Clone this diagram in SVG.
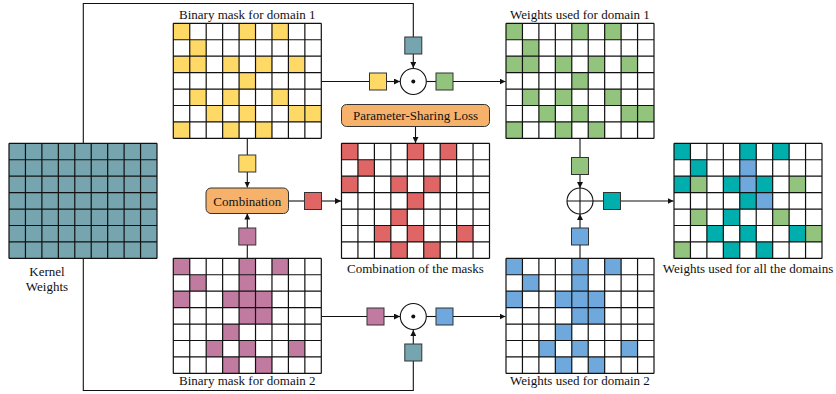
<svg xmlns="http://www.w3.org/2000/svg" xmlns:xlink="http://www.w3.org/1999/xlink" width="836" height="394" viewBox="0 0 836 394">
<style>
text{font-family:"Liberation Serif","DejaVu Serif","Times New Roman",serif;font-size:13px;fill:#111;text-anchor:middle}
.ln{fill:none;stroke:#111;stroke-width:1.1}
.ar{fill:none;stroke:#111;stroke-width:1.1;marker-end:url(#ah)}
.gl{fill:none;stroke:#111;stroke-width:1.2}
.sq{stroke:#333;stroke-width:1}
.box{fill:#f6b26b;stroke:#333;stroke-width:1}
.op{fill:#fff;stroke:#111;stroke-width:1.1}
</style>
<defs>
<marker id="ah" viewBox="0 0 8 8" refX="8" refY="4" markerWidth="6" markerHeight="6" markerUnits="userSpaceOnUse" orient="auto">
<path d="M0 0L8 4L0 8z" fill="#111"/>
</marker>
<path id="grid" d="M0 0V115.11M16.444 0V115.11M32.889 0V115.11M49.333 0V115.11M65.778 0V115.11M82.222 0V115.11M98.667 0V115.11M115.11 0V115.11M131.56 0V115.11M148 0V115.11M0 0H148M0 16.444H148M0 32.889H148M0 49.333H148M0 65.778H148M0 82.222H148M0 98.667H148M0 115.11H148"/>
<g id="patA" transform="scale(16.444)">
<rect x="0" y="0" width="1" height="1"/><rect x="4" y="0" width="1" height="1"/><rect x="6" y="0" width="1" height="1"/>
<rect x="1" y="1" width="1" height="1"/>
<rect x="0" y="2" width="1" height="1"/><rect x="1" y="2" width="1" height="1"/><rect x="3" y="2" width="1" height="1"/><rect x="5" y="2" width="1" height="1"/><rect x="7" y="2" width="1" height="1"/>
<rect x="4" y="3" width="1" height="1"/>
<rect x="1" y="4" width="1" height="1"/><rect x="3" y="4" width="1" height="1"/><rect x="6" y="4" width="1" height="1"/>
<rect x="2" y="5" width="1" height="1"/><rect x="4" y="5" width="1" height="1"/><rect x="7" y="5" width="1" height="1"/><rect x="8" y="5" width="1" height="1"/>
<rect x="0" y="6" width="1" height="1"/><rect x="3" y="6" width="1" height="1"/><rect x="5" y="6" width="1" height="1"/>
</g>
<g id="patB" transform="scale(16.444)">
<rect x="0" y="0" width="1" height="1"/><rect x="4" y="0" width="1" height="1"/><rect x="6" y="0" width="1" height="1"/>
<rect x="1" y="1" width="1" height="1"/><rect x="4" y="1" width="1" height="1"/>
<rect x="0" y="2" width="1" height="1"/><rect x="3" y="2" width="1" height="1"/><rect x="4" y="2" width="1" height="1"/><rect x="5" y="2" width="1" height="1"/>
<rect x="4" y="3" width="1" height="1"/><rect x="5" y="3" width="1" height="1"/>
<rect x="3" y="4" width="1" height="1"/>
<rect x="2" y="5" width="1" height="1"/><rect x="4" y="5" width="1" height="1"/><rect x="7" y="5" width="1" height="1"/>
<rect x="3" y="6" width="1" height="1"/><rect x="5" y="6" width="1" height="1"/>
</g>
<g id="patC" transform="scale(16.444)">
<rect x="0" y="0" width="1" height="1"/><rect x="4" y="0" width="1" height="1"/><rect x="6" y="0" width="1" height="1"/>
<rect x="1" y="1" width="1" height="1"/>
<rect x="0" y="2" width="1" height="1"/><rect x="3" y="2" width="1" height="1"/><rect x="5" y="2" width="1" height="1"/>
<rect x="4" y="3" width="1" height="1"/>
<rect x="3" y="4" width="1" height="1"/>
<rect x="2" y="5" width="1" height="1"/><rect x="4" y="5" width="1" height="1"/><rect x="7" y="5" width="1" height="1"/>
<rect x="3" y="6" width="1" height="1"/><rect x="5" y="6" width="1" height="1"/>
</g>
</defs>
<rect width="836" height="394" fill="#fff"/>

<g id="connectors">
<path class="ln" d="M83.3 143.3V3.5H413.3V37"/>
<path class="ln" d="M83.3 258.4V390.5H413.3V361"/>
<path class="ar" d="M413.3 54V68"/>
<path class="ln" d="M321.3 81.5H369.5"/>
<path class="ar" d="M386.5 81.5H400"/>
<path class="ln" d="M426.3 81.5H436"/>
<path class="ar" d="M453 81.5H505.5"/>
<path class="ln" d="M321.3 316.5H367"/>
<path class="ar" d="M384 316.5H400"/>
<path class="ln" d="M426.3 316.5H436"/>
<path class="ar" d="M453 316.5H505.5"/>
<path class="ar" d="M413.3 344V330"/>
<path class="ln" d="M247.3 138.4V155"/>
<path class="ar" d="M247.3 172V187.5"/>
<path class="ln" d="M247.3 258.4V245"/>
<path class="ar" d="M247.3 228V213.5"/>
<path class="ln" d="M288.5 201H304.5"/>
<path class="ar" d="M321.5 201H341"/>
<path class="ar" d="M415.5 126.5V143"/>
<path class="ln" d="M580 138.4V157.5"/>
<path class="ar" d="M580 174.5V188"/>
<path class="ln" d="M580 258.4V245"/>
<path class="ar" d="M580 228V214"/>
<path class="ln" d="M593 201H603.5"/>
<path class="ar" d="M620.5 201H673.5"/>
</g>

<g id="kernel" transform="translate(9,143.3)">
<rect width="148" height="115.11" fill="#76a5af"/>
<use xlink:href="#grid" class="gl"/>
</g>
<g font-family="Liberation Serif, DejaVu Serif, serif">
<text x="47" y="276">Kernel</text>
<text x="47" y="291">Weights</text>
</g>

<g id="mask1" transform="translate(173.3,23.3)">
<rect width="148" height="115.11" fill="#fff"/>
<use xlink:href="#patA" fill="#ffd966"/>
<use xlink:href="#grid" class="gl"/>
</g>
<text x="247.3" y="19">Binary mask for domain 1</text>

<g id="mask2" transform="translate(173.3,258.3)">
<rect width="148" height="115.11" fill="#fff"/>
<use xlink:href="#patB" fill="#c27ba0"/>
<use xlink:href="#grid" class="gl"/>
</g>
<text x="247.3" y="385">Binary mask for domain 2</text>

<g id="combmasks" transform="translate(341.5,143.3)">
<rect width="148" height="115.11" fill="#fff"/>
<use xlink:href="#patC" fill="#e06666"/>
<use xlink:href="#grid" class="gl"/>
</g>
<text x="415.5" y="273">Combination of the masks</text>

<g id="weights1" transform="translate(506,23.3)">
<rect width="148" height="115.11" fill="#fff"/>
<use xlink:href="#patA" fill="#93c47d"/>
<use xlink:href="#grid" class="gl"/>
</g>
<text x="580" y="19">Weights used for domain 1</text>

<g id="weights2" transform="translate(506,258.3)">
<rect width="148" height="115.11" fill="#fff"/>
<use xlink:href="#patB" fill="#6fa8dc"/>
<use xlink:href="#grid" class="gl"/>
</g>
<text x="580" y="385">Weights used for domain 2</text>

<g id="weightsall" transform="translate(674,143.3)">
<rect width="148" height="115.11" fill="#fff"/>
<use xlink:href="#patA" fill="#93c47d"/>
<use xlink:href="#patB" fill="#6fa8dc"/>
<use xlink:href="#patC" fill="#00afad"/>
<use xlink:href="#grid" class="gl"/>
</g>
<text x="748" y="273">Weights used for all the domains</text>

<g id="op-top">
<rect class="sq" x="404.8" y="37" width="17" height="17" fill="#76a5af"/>
<rect class="sq" x="369.5" y="73" width="17" height="17" fill="#ffd966"/>
<circle class="op" cx="413.3" cy="81.5" r="13"/>
<circle cx="413.3" cy="81.5" r="2" fill="#111"/>
<rect class="sq" x="436" y="73" width="17" height="17" fill="#93c47d"/>
</g>

<g id="op-bottom">
<rect class="sq" x="367" y="308" width="17" height="17" fill="#c27ba0"/>
<circle class="op" cx="413.3" cy="316.5" r="13"/>
<circle cx="413.3" cy="316.5" r="2" fill="#111"/>
<rect class="sq" x="436" y="308" width="17" height="17" fill="#6fa8dc"/>
<rect class="sq" x="404.8" y="344" width="17" height="17" fill="#76a5af"/>
</g>

<g id="combination">
<rect class="sq" x="238.8" y="155" width="17" height="17" fill="#ffd966"/>
<rect class="box" x="206" y="188" width="82.5" height="25.5" rx="5"/>
<text x="247.3" y="205.5">Combination</text>
<rect class="sq" x="238.8" y="228" width="17" height="17" fill="#c27ba0"/>
<rect class="sq" x="304.5" y="192.5" width="17" height="17" fill="#e06666"/>
</g>

<g id="psloss">
<rect class="box" x="341.5" y="104.5" width="148" height="22" rx="5"/>
<text x="415.5" y="120">Parameter-Sharing Loss</text>
</g>

<g id="op-sum">
<rect class="sq" x="571.5" y="157.5" width="17" height="17" fill="#93c47d"/>
<circle class="op" cx="580" cy="201" r="13"/>
<path class="ln" d="M567 201H593M580 188V214"/>
<rect class="sq" x="571.5" y="228" width="17" height="17" fill="#6fa8dc"/>
<rect class="sq" x="603.5" y="192.5" width="17" height="17" fill="#00afad"/>
</g>
</svg>
